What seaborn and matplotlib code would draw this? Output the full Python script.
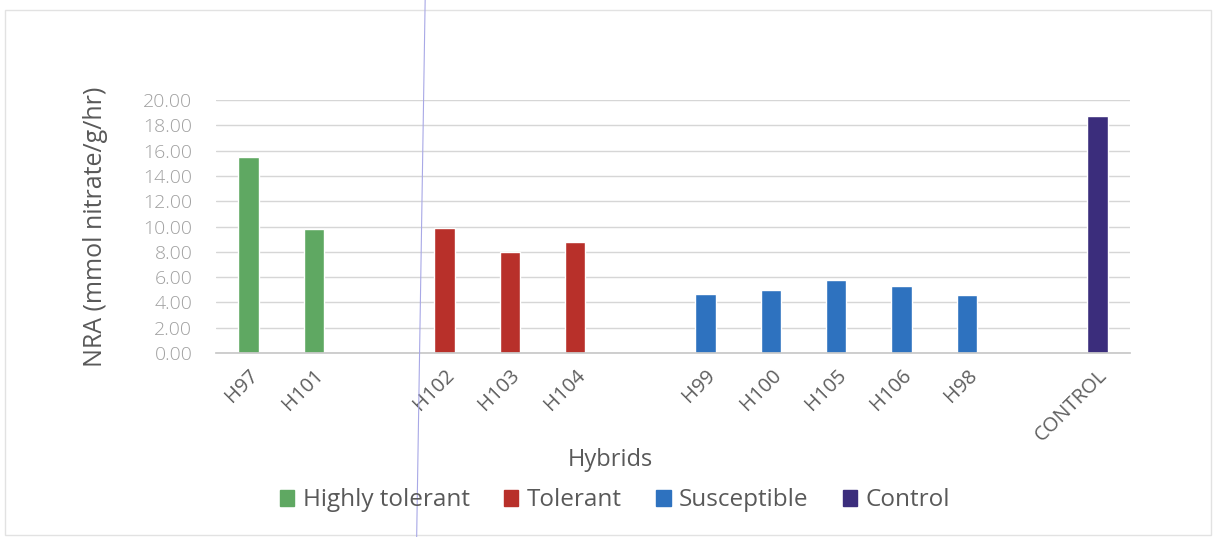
import matplotlib
matplotlib.use("Agg")
import matplotlib.pyplot as plt
import seaborn as sns
import pandas as pd
from matplotlib.patches import Rectangle
from matplotlib.lines import Line2D

# Hybrid names, their tolerance group and nitrate reductase activity
hybrids = ["H97", "H101", "H102", "H103", "H104",
           "H99", "H100", "H105", "H106", "H98", "CONTROL"]
groups = ["Highly tolerant", "Highly tolerant",
          "Tolerant", "Tolerant", "Tolerant",
          "Susceptible", "Susceptible", "Susceptible", "Susceptible", "Susceptible",
          "Control"]
nra = [15.47, 9.79, 9.87, 8.02, 8.76, 4.66, 5.00, 5.79, 5.31, 4.55, 18.73]

group_names = ["Highly tolerant", "Tolerant", "Susceptible", "Control"]
group_colors = ["#5fa862", "#b8302a", "#2e72bf", "#3b2d7c"]

# Category order with empty slots separating the groups
slot_order = ["H97", "H101", " ", "H102", "H103", "H104", "  ",
              "H99", "H100", "H105", "H106", "H98", "   ", "CONTROL"]

df = pd.DataFrame({"Hybrid": hybrids, "Group": groups, "NRA": nra})

sns.set_theme(style="white")
plt.rcParams["font.family"] = ["Open Sans", "DejaVu Sans"]

fig = plt.figure(figsize=(12.13, 5.37), dpi=100)
ax = fig.add_axes([0.1780, 0.3426, 0.7536, 0.4712])

sns.barplot(data=df, x="Hybrid", y="NRA", hue="Group", order=slot_order,
            hue_order=group_names, palette=dict(zip(group_names, group_colors)),
            dodge=False, width=0.31, saturation=1, ax=ax, legend=False)

ax.set_ylim(0, 20)
ax.set_xlim(-0.5, len(slot_order) - 0.5)
ax.set_yticks(range(0, 21, 2))
ax.set_yticklabels([f"{v:.2f}" for v in range(0, 21, 2)],
                   fontsize=14, color="#a0a0a0", fontweight="light")
ax.yaxis.grid(True, color="#d6d6d6", lw=1.0)
ax.set_axisbelow(True)
for side in ["top", "right", "left"]:
    ax.spines[side].set_visible(False)
ax.spines["bottom"].set_color("#c8c8c8")
ax.tick_params(axis="both", length=0)
ax.tick_params(axis="y", pad=17)

ax.set_xticks(range(len(slot_order)))
ax.set_xticklabels([s.strip() for s in slot_order], rotation=45, ha="right",
                   rotation_mode="anchor", fontsize=14.5, color="#5f5f5f")
ax.tick_params(axis="x", pad=9)

ax.set_ylabel("NRA (mmol nitrate/g/hr)", fontsize=18, color="#595959", labelpad=25)
ax.set_xlabel("")
fig.text(0.503, 0.143, "Hybrids", ha="center", va="center",
         fontsize=17, color="#595959")

handles = [Rectangle((0, 0), 1, 1, color=c) for c in group_colors]
fig.legend(handles, group_names, loc="center", bbox_to_anchor=(0.507, 0.068),
           ncol=4, frameon=False, fontsize=17.5, handlelength=0.6, handleheight=0.6,
           handletextpad=0.35, columnspacing=1.4, labelcolor="#595959")

# Outer chart frame and faint ruling line
fig.add_artist(Rectangle((0.004, 0.004), 0.994, 0.977, transform=fig.transFigure,
                         fill=False, edgecolor="#e2e2e2", lw=1.0))
fig.add_artist(Line2D([0.3505, 0.3435], [1.0, 0.0], transform=fig.transFigure,
                      color="#a8a8e6", lw=0.8))

fig.savefig("out.png", dpi=100, facecolor="white")
